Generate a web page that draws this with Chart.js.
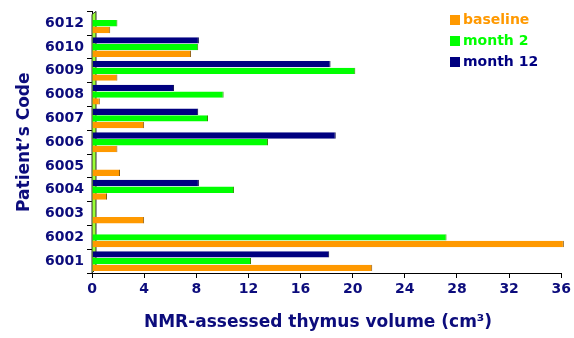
<!DOCTYPE html>
<html>
<head>
<meta charset="utf-8">
<script src="https://cdn.jsdelivr.net/npm/chart.js@4"></script>
<style>
  html, body { margin: 0; padding: 0; background: #fff; }
  #wrap { width: 574px; height: 338px; position: relative; }
</style>
</head>
<body>
<div id="wrap"><canvas id="chart"></canvas></div>
<script>
// Data
const patients = ['6012', '6010', '6009', '6008', '6007', '6006', '6005', '6004', '6003', '6002', '6001']
const baseline = [1.4, 7.6, 1.95, 0.6, 4.0, 1.95, 2.15, 1.15, 4.0, 36.2, 21.5]
const month2 = [1.95, 8.15, 20.2, 10.1, 8.9, 13.5, 0, 10.9, 0, 27.2, 12.2]
const month12 = [0, 8.2, 18.3, 6.3, 8.15, 18.7, 0, 8.2, 0, 0, 18.2]
const xTicks = [0, 4, 8, 12, 16, 20, 24, 28, 32, 36]
const xTitle = 'NMR-assessed thymus volume (cm³)'

const navy = '#0c0c7c'
const font = 'DejaVu Sans'

// legend drawn inside plot, top right
const legendItems = [
  { text: 'baseline', color: '#ff9900' },
  { text: 'month 2', color: '#00ff00' },
  { text: 'month 12', color: '#000080' }
]

const decorPlugin = {
  id: 'decor',
  beforeDatasetsDraw(chart) {
    const { ctx, chartArea } = chart
    // green wall next to the y axis
    ctx.save()
    ctx.fillStyle = '#99ff33'
    ctx.strokeStyle = '#333'
    ctx.lineWidth = 1
    ctx.beginPath()
    ctx.moveTo(chartArea.left, chartArea.top + 3)
    ctx.lineTo(chartArea.left + 4, chartArea.top)
    ctx.lineTo(chartArea.left + 4, chartArea.bottom - 4)
    ctx.lineTo(chartArea.left, chartArea.bottom)
    ctx.closePath()
    ctx.fill()
    ctx.stroke()
    ctx.restore()
  },
  afterDraw(chart) {
    const { ctx } = chart
    ctx.save()
    ctx.font = 'bold 14px ' + font
    ctx.textBaseline = 'middle'
    legendItems.forEach((item, i) => {
      const y = 20 + i * 21
      ctx.fillStyle = item.color
      ctx.fillRect(450, y - 5, 10, 10)
      ctx.fillText(item.text, 463, y)
    })
    // x axis title (sits a bit left of the plot centre in the original)
    ctx.font = 'bold 17px ' + font
    ctx.fillStyle = navy
    ctx.textAlign = 'center'
    ctx.fillText(xTitle, 318, 323)
    ctx.restore()
  }
}

const ctx = document.getElementById('chart').getContext('2d')
new Chart(ctx, {
  type: 'bar',
  data: {
    labels: patients,
    datasets: [
      {
        label: 'month 12',
        data: month12,
        backgroundColor: '#000080',
        borderColor: '#000040',
        borderWidth: { right: 1, top: 0, bottom: 0, left: 0 },
        borderSkipped: false
      },
      {
        label: 'month 2',
        data: month2,
        backgroundColor: '#00ff00',
        borderColor: '#338800',
        borderWidth: { right: 1, top: 0, bottom: 0, left: 0 },
        borderSkipped: false
      },
      {
        label: 'baseline',
        data: baseline,
        backgroundColor: '#ff9900',
        borderColor: '#8a5a10',
        borderWidth: { right: 1, top: 0, bottom: 0, left: 0 },
        borderSkipped: false
      }
    ]
  },
  options: {
    indexAxis: 'y',
    responsive: true,
    maintainAspectRatio: false,
    animation: false,
    layout: { padding: { top: 5, right: 12, left: 0, bottom: 0 } },
    datasets: {
      bar: { barPercentage: 0.95, categoryPercentage: 0.85, clip: false }
    },
    plugins: {
      legend: { display: false },
      tooltip: { enabled: false }
    },
    scales: {
      x: {
        min: 0,
        max: 36,
        afterFit(axis) { axis.height = 65 },
        afterBuildTicks(axis) { axis.ticks = xTicks.map(v => ({ value: v })) },
        grid: { drawOnChartArea: false, tickLength: 5, color: '#000' },
        border: { color: '#000', width: 1 },
        ticks: { color: navy, font: { family: font, size: 14, weight: 'bold' }, padding: 3 },
        title: { display: false }
      },
      y: {
        afterFit(axis) { axis.width = 92 },
        grid: { drawOnChartArea: false, offset: true, tickLength: 5, color: '#000' },
        border: { color: '#000', width: 1 },
        ticks: { color: navy, font: { family: font, size: 14, weight: 'bold' }, padding: 3 },
        title: {
          display: true,
          text: 'Patient’s Code',
          color: navy,
          font: { family: font, size: 17, weight: 'bold' },
          padding: { top: 14, bottom: 0 }
        }
      }
    }
  },
  plugins: [decorPlugin]
})
</script>
</body>
</html>
